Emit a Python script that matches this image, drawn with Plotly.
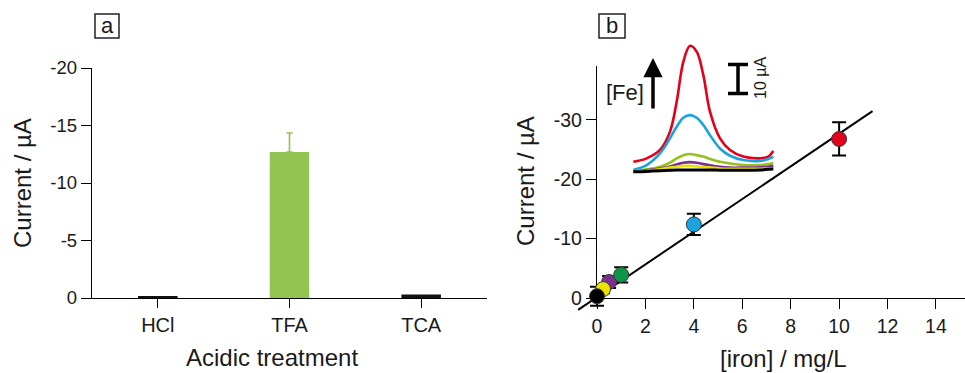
import plotly.graph_objects as go

W, H = 965, 373

# ---------------- Panel a data ----------------
acids = ["HCl", "TFA", "TCA"]
acid_current = [-0.1, -12.7, -0.3]
acid_error = [0.0, 1.65, 0.0]
acid_colors = ["#111111", "#92c353", "#111111"]
acid_ticks = [0, -5, -10, -15, -20]
acid_ticklabels = ["0", "-5", "-10", "-15", "-20"]

# ---------------- Panel b data (draw order) ----------------
iron_conc = [10, 4, 0.5, 1, 0.25, 0]
iron_current = [-26.8, -12.4, -2.7, -3.9, -1.5, -0.3]
iron_error = [2.8, 1.8, 1.0, 1.3, 0.7, 1.6]
iron_colors = ["#e2001a", "#1ba3e0", "#7b2f8e", "#0e9647", "#ece200", "#000000"]
iron_xticks = [0, 2, 4, 6, 8, 10, 12, 14]
iron_yticks = [0, -10, -20, -30]
iron_yticklabels = ["0", "-10", "-20", "-30"]
fit_slope = -2.755
fit_intercept = -0.15
fit_x_ends = [-0.78, 11.38]

# ---------------- Inset voltammograms ----------------
potential = [-0.64, -0.58, -0.52, -0.475, -0.445, -0.415, -0.385, -0.355,
             -0.325, -0.295, -0.25, -0.205, -0.145, -0.07, -0.0325, -0.01]
vg_red = [3.4, 4.6, 7.5, 13.8, 24.1, 37.9, 43.4, 41.4, 33.3, 20.7, 11.5, 7.5, 5.2, 4.6, 5.2, 7.1]
vg_blue = [0.6, 2.3, 6.3, 11.5, 15.5, 18.6, 19.5, 18.6, 16.1, 12.6, 8.0, 5.5, 4.0, 3.7, 4.4, 5.2]
vg_green = [0.0, 0.8, 1.7, 3.1, 4.6, 5.7, 6.1, 5.7, 5.2, 4.4, 3.4, 2.8, 2.3, 2.3, 2.6, 3.0]
vg_purple = [0.0, 0.5, 1.1, 1.8, 2.5, 3.1, 3.3, 3.1, 2.6, 2.2, 1.7, 1.4, 1.4, 1.5, 1.7, 2.0]
vg_yellow = [0.0, 0.2, 0.8, 1.4, 1.7, 2.0, 2.0, 1.8, 1.6, 1.4, 1.1, 1.0, 1.0, 1.0, 1.1, 1.1]
vg_black = [0.0, 0.1, 0.3, 0.5, 0.6, 0.6, 0.6, 0.6, 0.6, 0.6, 0.5, 0.5, 0.5, 0.6, 0.8, 0.9]
scale_bar_uA = 10

FONT = "Liberation Sans, Arial, sans-serif"
TXT = "#1a1a1a"

fig = go.Figure()

# ---- Panel a bars ----
for name, val, err, col in zip(acids, acid_current, acid_error, acid_colors):
    fig.add_trace(go.Bar(
        x=[name], y=[val], marker=dict(color=col, line=dict(width=0)), width=0.3,
        error_y=dict(type="data", array=[0], arrayminus=[err], symmetric=False,
                     visible=bool(err > 0), color="#92c353", thickness=1.6, width=3),
        xaxis="x", yaxis="y", showlegend=False))

# ---- Panel b: visible axes (dummy) ----
fig.add_trace(go.Scatter(x=[None], y=[None], xaxis="x2", yaxis="y2", showlegend=False))

# geometry of panel b
bx0, bx1 = 597, W            # pixel extents of x axis
by0, by1 = 298, 66           # pixel y of 0 and top
bxmax = 15.2
bymin = -39.1
ppx = (bx1 - bx0) / bxmax
ppy = (by0 - by1) / (-bymin)
# extended hidden axes for fit line and markers (same scale)
ex0, ex1, ey_top, ey_bot = 560, W, 40, 335
ext_xrange = [(ex0 - bx0) / ppx, (ex1 - bx0) / ppx]
ext_yrange = [(ey_bot - by0) / ppy, -(by0 - ey_top) / ppy]

fit_y = [fit_intercept + fit_slope * x for x in fit_x_ends]
fig.add_trace(go.Scatter(x=fit_x_ends, y=fit_y, mode="lines",
                         line=dict(color="#000000", width=2),
                         xaxis="x3", yaxis="y3", showlegend=False))
fig.add_trace(go.Scatter(
    x=iron_conc, y=iron_current, mode="markers",
    marker=dict(size=15, color=iron_colors, line=dict(color="#3a3a3a", width=1)),
    error_y=dict(type="data", array=iron_error, color="#000000", thickness=2, width=7),
    cliponaxis=False, xaxis="x3", yaxis="y3", showlegend=False))

# ---- Inset ----
for ys, col, wd in [(vg_red, "#e2001a", 2.6), (vg_blue, "#1ba3e0", 2.6),
                    (vg_green, "#95c11f", 2.6), (vg_purple, "#7b2f8e", 2.6),
                    (vg_yellow, "#e8e000", 2.6), (vg_black, "#000000", 3)]:
    fig.add_trace(go.Scatter(x=potential, y=ys, mode="lines",
                             line=dict(color=col, width=wd, shape="spline", smoothing=1.0),
                             xaxis="x4", yaxis="y4", showlegend=False, cliponaxis=False))
fig.add_trace(go.Scatter(x=[-0.169], y=[32], mode="markers", marker=dict(opacity=0, size=1),
                         error_y=dict(type="data", array=[scale_bar_uA / 2], color="#000000",
                                      thickness=3.5, width=10),
                         xaxis="x4", yaxis="y4", showlegend=False, cliponaxis=False))

def axis_common(size):
    return dict(showline=True, linecolor="#000000", linewidth=1.4, ticks="outside",
                tickcolor="#000000", tickwidth=1.4, showgrid=False, zeroline=False,
                tickfont=dict(family=FONT, size=size, color=TXT), automargin=False)

hidden = dict(visible=False, showgrid=False, zeroline=False, automargin=False)

fig.update_layout(
    width=W, height=H, margin=dict(l=0, r=0, t=0, b=0),
    paper_bgcolor="white", plot_bgcolor="rgba(0,0,0,0)",
    barmode="overlay", showlegend=False,
    xaxis=dict(domain=[92 / W, 487 / W], range=[-0.5, 2.5], anchor="y",
               ticklen=9, categoryorder="array", categoryarray=acids, **axis_common(20)),
    yaxis=dict(domain=[1 - 298 / H, 1 - 68 / H], range=[0, -20], anchor="x",
               tickvals=acid_ticks, ticktext=acid_ticklabels, ticklen=10, **axis_common(18.5)),
    xaxis2=dict(domain=[bx0 / W, bx1 / W], range=[0, bxmax], anchor="y2",
                tickvals=iron_xticks, ticklen=10, **axis_common(19.5)),
    yaxis2=dict(domain=[1 - by0 / H, 1 - by1 / H], range=[0, bymin], anchor="x2",
                tickvals=iron_yticks, ticktext=iron_yticklabels, ticklen=10, **axis_common(19.5)),
    xaxis3=dict(domain=[ex0 / W, ex1 / W], range=ext_xrange, anchor="y3", **hidden),
    yaxis3=dict(domain=[1 - ey_bot / H, 1 - ey_top / H], range=ext_yrange, anchor="x3", **hidden),
    xaxis4=dict(domain=[620 / W, 780 / W], range=[-0.70, 0.02], anchor="y4", **hidden),
    yaxis4=dict(domain=[1 - 180 / H, 1 - 35 / H], range=[-2.87, 47.13], anchor="x4", **hidden),
)

def ann(text, x, y, size=24, angle=0):
    fig.add_annotation(text=text, x=x / W, y=1 - y / H, xref="paper", yref="paper",
                       showarrow=False, textangle=angle, xanchor="center", yanchor="middle",
                       font=dict(family=FONT, size=size, color=TXT))

ann("Current / µA", 22, 183, angle=-90)
ann("Acidic treatment", 272, 357)
ann("Current / µA", 525, 181, angle=-90)
ann("[iron] / mg/L", 783, 358)
ann("a", 107, 25, size=22)
ann("b", 612, 25, size=22)
ann("[Fe]", 625, 93, size=22)
ann("10 µA", 760, 78, size=16, angle=-90)

# panel label boxes
for x0, x1 in [(95, 119), (599, 625)]:
    fig.add_shape(type="rect", xref="paper", yref="paper", x0=x0 / W, x1=x1 / W,
                  y0=1 - 38 / H, y1=1 - 14 / H, line=dict(color="#222222", width=1.5))

# [Fe] arrow
fig.add_annotation(x=653 / W, y=1 - 58 / H, xref="paper", yref="paper", text="",
                   showarrow=True, ax=0, ay=52, arrowhead=2, arrowsize=1.1,
                   arrowwidth=3.5, arrowcolor="#000000")

fig.write_html("out.html", config={"displayModeBar": False},
               post_script="document.body.style.margin='0';")
